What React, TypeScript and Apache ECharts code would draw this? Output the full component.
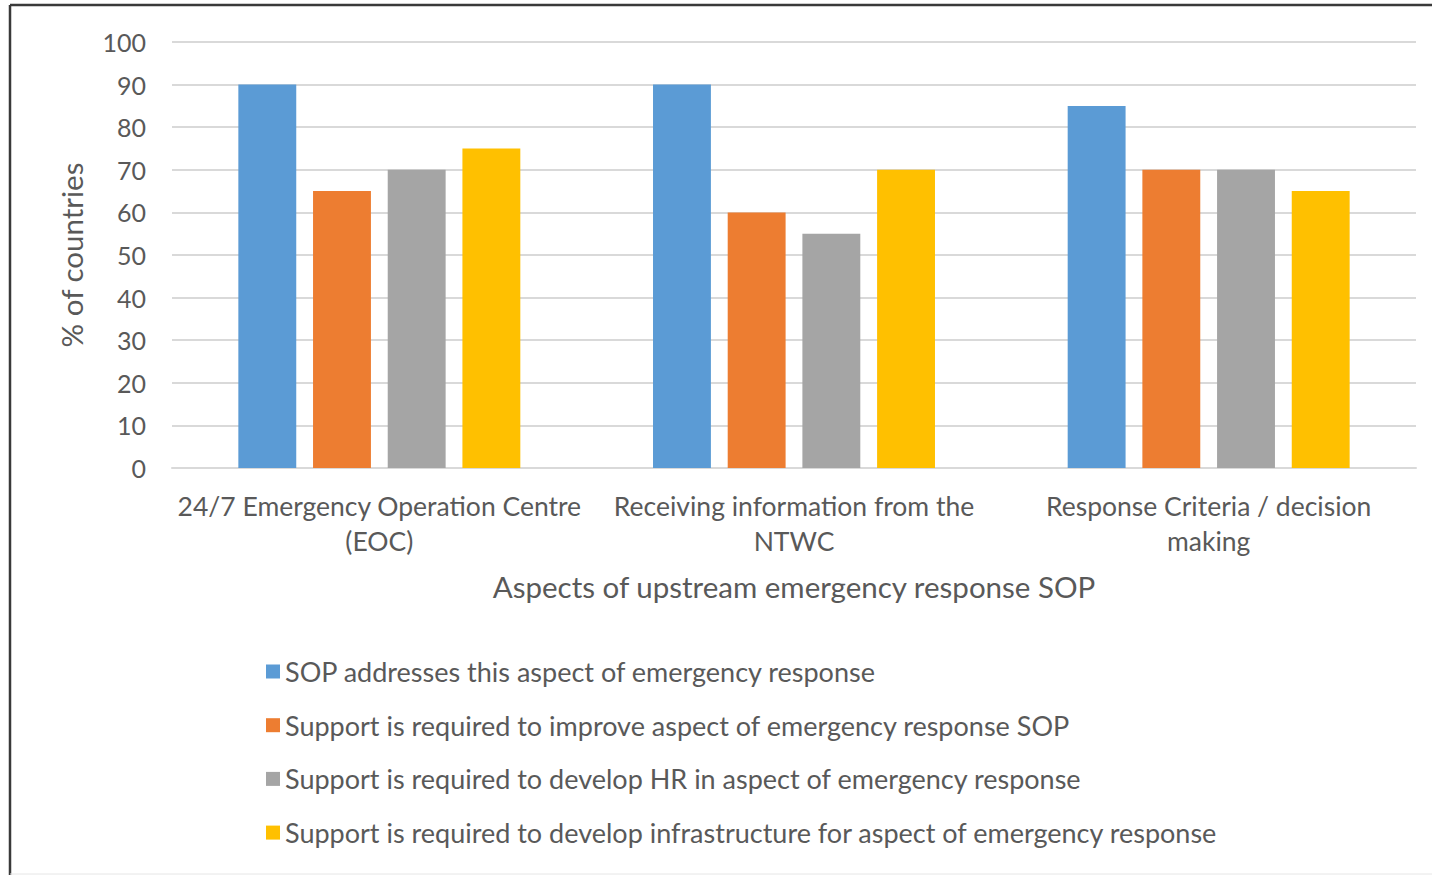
import React, { useEffect, useRef } from "react";
import * as echarts from "echarts";

// Upstream emergency response SOP survey (% of countries)
const categories = [
  "24/7 Emergency Operation Centre\n(EOC)",
  "Receiving information from the\nNTWC",
  "Response Criteria / decision\nmaking",
];
const seriesNames = [
  "SOP addresses this aspect of emergency response",
  "Support is required to improve aspect of emergency response SOP",
  "Support is required to develop HR in aspect of emergency response",
  "Support is required to develop infrastructure for aspect of emergency response",
];
const sopAddresses = [90, 90, 85];
const improveSop = [65, 60, 70];
const developHr = [70, 55, 70];
const developInfra = [75, 70, 65];
const yTicks = { min: 0, max: 100, interval: 10 };

const colors = ["#5B9BD5", "#ED7D31", "#A5A5A5", "#FFC000"];
const FONT = "Lato, 'Noto Sans', sans-serif";
const TEXT = "#595959";

export default function App() {
  const ref = useRef<HTMLDivElement>(null);

  useEffect(() => {
    if (!ref.current) return;
    const chart = echarts.init(ref.current, null, { renderer: "svg" });
    const values = [sopAddresses, improveSop, developHr, developInfra];
    chart.setOption({
      animation: false,
      backgroundColor: "#ffffff",
      textStyle: { fontFamily: FONT, color: TEXT },
      grid: { left: 172, right: 16, top: 42, bottom: 407 },
      legend: {
        orient: "vertical",
        left: 261,
        top: 653,
        itemWidth: 14,
        itemHeight: 14,
        itemGap: 26.7,
        icon: "rect",
        textStyle: { fontFamily: FONT, fontSize: 27, color: TEXT, lineHeight: 27 },
        data: seriesNames,
      },
      xAxis: {
        type: "category",
        data: categories,
        name: "Aspects of upstream emergency response SOP",
        nameLocation: "middle",
        nameGap: 103,
        nameTextStyle: { fontFamily: FONT, fontSize: 29.5, color: TEXT },
        axisLine: { lineStyle: { color: "#d9d9d9", width: 2 } },
        axisTick: { show: false },
        axisLabel: {
          fontFamily: FONT,
          fontSize: 26.5,
          color: TEXT,
          lineHeight: 35,
          margin: 20,
          interval: 0,
        },
      },
      yAxis: {
        type: "value",
        min: yTicks.min,
        max: yTicks.max,
        interval: yTicks.interval,
        name: "% of countries",
        nameLocation: "middle",
        nameRotate: 90,
        nameGap: 86,
        nameTextStyle: { fontFamily: FONT, fontSize: 29.5, color: TEXT },
        axisLine: { show: false },
        axisTick: { show: false },
        axisLabel: { fontFamily: FONT, fontSize: 25, color: TEXT, margin: 26 },
        splitLine: { lineStyle: { color: "#d9d9d9", width: 2 } },
      },
      series: seriesNames.map((name, i) => ({
        name,
        type: "bar",
        data: values[i],
        barGap: "29%",
        barCategoryGap: "32%",
        itemStyle: { color: colors[i] },
      })),
      graphic: [
        {
          type: "line",
          shape: { x1: 10, y1: 5, x2: 1432, y2: 5 },
          style: { stroke: "#3a3a3a", lineWidth: 2.5 },
        },
        {
          type: "line",
          shape: { x1: 10, y1: 5, x2: 10, y2: 875 },
          style: { stroke: "#3a3a3a", lineWidth: 2.5 },
        },
        {
          type: "line",
          shape: { x1: 10, y1: 874, x2: 1432, y2: 874 },
          style: { stroke: "#e6e6e6", lineWidth: 1 },
        },
      ],
    });
    return () => chart.dispose();
  }, []);

  return (
    <div
      ref={ref}
      style={{ position: "fixed", left: 0, top: 0, width: 1432, height: 875 }}
    />
  );
}
